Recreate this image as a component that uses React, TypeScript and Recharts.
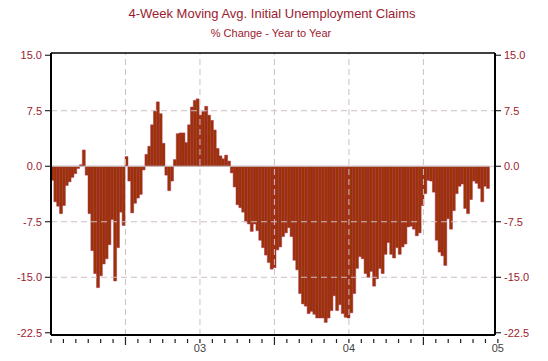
import { BarChart, Bar, XAxis, YAxis, ReferenceLine } from 'recharts';

// weekly values, % change year to year
const claims2002H1 = [-1.9, -4.8, -5.4, -6.4, -5.3, -2.6, -2.1, -1.5, -1.0, -0.3, 0.2, 2.2, -1.2, -6.4, -11.4, -14.5, -16.4, -14.8, -13.2, -12.5, -10.6, -7.2, -15.5, -11.0, -6.2, -8.0];
const claims2002H2 = [1.3, -2.0, -6.3, -5.0, -4.3, -3.8, -0.5, 1.6, 2.7, 5.6, 7.5, 8.7, 7.1, 3.1, -1.2, -3.3, -2.0, 0.9, 4.4, 4.5, 4.5, 3.2, 5.6, 8.0, 8.9, 9.1];
const claims2003H1 = [6.9, 7.4, 8.1, 6.9, 6.2, 4.9, 2.4, 1.4, 1.0, 1.5, 0.7, -0.9, -2.8, -5.2, -5.6, -6.2, -7.5, -7.8, -8.8, -7.8, -8.7, -10.0, -11.0, -12.0, -13.0, -13.9];
const claims2003H2 = [-13.7, -11.3, -10.9, -9.5, -9.0, -8.3, -9.5, -12.7, -14.0, -17.2, -18.6, -18.9, -19.9, -19.6, -20.0, -20.5, -20.5, -20.5, -21.1, -20.5, -19.5, -17.5, -19.5, -18.7, -19.9, -20.4];
const claims2004H1 = [-20.5, -19.8, -17.2, -13.8, -12.2, -12.5, -14.5, -15.0, -14.2, -16.2, -15.2, -13.8, -14.5, -11.9, -10.3, -11.9, -12.4, -11.0, -11.9, -10.9, -10.5, -8.2, -8.1, -8.5, -9.4, -9.0];
const claims2004H2 = [-5.3, -3.7, -1.9, -2.0, -3.5, -10.0, -11.6, -12.1, -13.4, -7.1, -8.5, -6.0, -3.7, -2.7, -2.4, -5.7, -6.4, -4.5, -2.0, -2.3, -3.0, -4.8, -2.7, -3.0];

const totalWeeks = 156;
const weeksPerMonth = totalWeeks / 36;
const monthTicks = Array.from({ length: 37 }, (_, i) => i * weeksPerMonth);
const yearLabels: Record<number, string> = { 12: '03', 24: '04', 36: '05' };
const yTicks = [15, 7.5, 0, -7.5, -15, -22.5];
const halfYearLines = [6, 12, 18, 24, 30];
const dashedLevels = [7.5, -7.5, -15];

const allWeeks = [...claims2002H1, ...claims2002H2, ...claims2003H1, ...claims2003H2, ...claims2004H1, ...claims2004H2];
const data = Array.from({ length: totalWeeks }, (_, i) => ({
  week: i,
  value: i < allWeeks.length ? allWeeks[i] : null,
}));

const RED = '#9b1b30';
const GRID = '#cdbfc2';
const FONT = 'Arial, "Liberation Sans", sans-serif';
const Y_DOMAIN: [number, number] = [-22.8, 15.3];

function MonthTick(props: any) {
  const { x, y, payload } = props;
  const m = Math.round(payload.value / weeksPerMonth);
  const half = m % 6 === 0 && m % 12 !== 0;
  const label = yearLabels[m];
  return (
    <g>
      <line x1={x} x2={x} y1={y + (half ? 2 : 4)} y2={y + (half ? 10 : 8)} stroke="#222" strokeWidth={1.2} />
      {label && (
        <text x={x} y={y + 17} textAnchor="middle" fontSize={11} fill="#444" fontFamily={FONT}>
          {label}
        </text>
      )}
    </g>
  );
}

export default function App() {
  return (
    <div style={{ position: 'absolute', left: 0, top: 0, width: 548, height: 361, background: '#fff', fontFamily: FONT }}>
      <div style={{ position: 'absolute', left: 0, top: 7, width: 544, textAlign: 'center', fontSize: 13, color: RED, lineHeight: '14px' }}>
        4-Week Moving Avg. Initial Unemployment Claims
      </div>
      <div style={{ position: 'absolute', left: 0, top: 27, width: 542, textAlign: 'center', fontSize: 11, color: RED, lineHeight: '12px' }}>
        % Change - Year to Year
      </div>
      <BarChart
        width={548}
        height={361}
        data={data}
        margin={{ top: 53, right: 0, bottom: 0, left: 0 }}
        barCategoryGap={0}
        style={{ position: 'absolute', left: 0, top: 0 }}
      >
        <XAxis xAxisId="weeks" dataKey="week" hide />
        <XAxis
          xAxisId="time"
          type="number"
          domain={[0, totalWeeks]}
          ticks={monthTicks}
          interval={0}
          allowDataOverflow
          height={26}
          tickSize={0}
          tickMargin={0}
          tickLine={false}
          axisLine={{ stroke: '#000', strokeWidth: 2 }}
          tick={<MonthTick />}
        />
        <YAxis
          yAxisId="left"
          domain={Y_DOMAIN}
          ticks={yTicks}
          interval={0}
          allowDataOverflow
          width={51}
          tickSize={6}
          tickMargin={3}
          tickFormatter={(v: number) => v.toFixed(1)}
          tick={{ fontSize: 11, fill: RED, fontFamily: FONT }}
          tickLine={{ stroke: '#000' }}
          axisLine={{ stroke: '#000', strokeWidth: 2 }}
        />
        <YAxis
          yAxisId="right"
          orientation="right"
          domain={Y_DOMAIN}
          ticks={yTicks}
          interval={0}
          allowDataOverflow
          width={53}
          tickSize={6}
          tickMargin={3}
          tickFormatter={(v: number) => v.toFixed(1)}
          tick={{ fontSize: 11, fill: RED, fontFamily: FONT }}
          tickLine={{ stroke: '#000' }}
          axisLine={{ stroke: '#000', strokeWidth: 2 }}
        />
        {dashedLevels.map((v) => (
          <ReferenceLine key={'h' + v} y={v} yAxisId="left" xAxisId="time" stroke={GRID} strokeDasharray="6 4" />
        ))}
        {halfYearLines.map((m) => (
          <ReferenceLine key={'v' + m} x={m * weeksPerMonth} xAxisId="time" yAxisId="left" stroke={GRID} strokeDasharray="6 4" />
        ))}
        <Bar
          dataKey="value"
          xAxisId="weeks"
          yAxisId="left"
          fill="#993300"
          stroke="#b0305a"
          strokeWidth={0.5}
          isAnimationActive={false}
        />
        <ReferenceLine y={0} yAxisId="left" xAxisId="time" stroke="#c8c8c8" strokeWidth={1} />
        <ReferenceLine y={Y_DOMAIN[1]} yAxisId="left" xAxisId="time" stroke="#000" strokeWidth={1.5} />
      </BarChart>
    </div>
  );
}
